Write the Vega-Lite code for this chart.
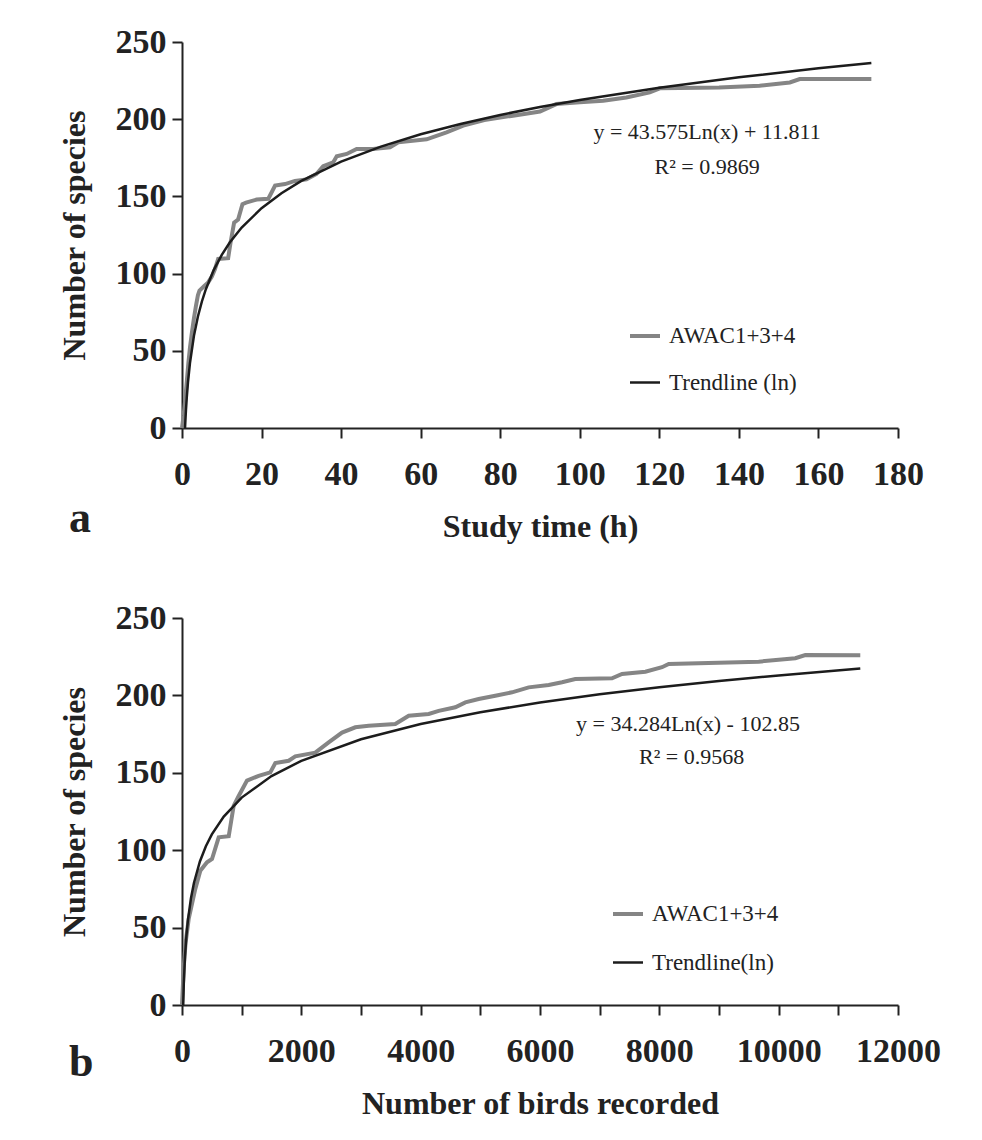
{
  "$schema": "https://vega.github.io/schema/vega-lite/v6.json",
  "background": "white",
  "padding": {"left": 58, "top": 25, "right": 5, "bottom": 5},
  "config": {
    "view": {"stroke": null},
    "font": "Liberation Serif",
    "concat": {"spacing": 59},
    "axis": {
      "domainColor": "#222222", "domainWidth": 2,
      "tickColor": "#222222", "tickWidth": 2, "tickSize": 10,
      "grid": false, "labelFlush": false, "labelOverlap": false,
      "labelFont": "Liberation Serif", "labelFontSize": 34, "labelFontWeight": "bold", "labelColor": "#222222",
      "titleFont": "Liberation Serif", "titleFontSize": 32, "titleFontWeight": "bold", "titleColor": "#222222"
    },
    "axisY": {"labelPadding": 6, "titlePadding": 24},
    "axisX": {"labelPadding": 19, "titlePadding": 20},
    "legend": {
      "orient": "none", "symbolType": "stroke", "symbolSize": 900, "symbolStrokeWidth": 3.5,
      "labelFont": "Liberation Serif", "labelFontSize": 23, "labelColor": "#222222",
      "rowPadding": 18, "labelOffset": 7, "padding": 0, "title": null
    }
  },
  "resolve": {"scale": {"color": "independent", "strokeWidth": "independent", "x": "independent", "y": "independent"}, "legend": {"color": "independent"}},
  "datasets": {
    "a": [
      {"x": 0, "y": 0, "s": "AWAC1+3+4"},
      {"x": 0.4, "y": 8, "s": "AWAC1+3+4"},
      {"x": 0.8, "y": 18, "s": "AWAC1+3+4"},
      {"x": 1.2, "y": 30, "s": "AWAC1+3+4"},
      {"x": 1.6, "y": 42, "s": "AWAC1+3+4"},
      {"x": 2, "y": 52, "s": "AWAC1+3+4"},
      {"x": 2.5, "y": 62, "s": "AWAC1+3+4"},
      {"x": 3, "y": 71, "s": "AWAC1+3+4"},
      {"x": 3.5, "y": 79, "s": "AWAC1+3+4"},
      {"x": 4, "y": 86, "s": "AWAC1+3+4"},
      {"x": 4.4, "y": 89, "s": "AWAC1+3+4"},
      {"x": 5.6, "y": 92, "s": "AWAC1+3+4"},
      {"x": 6.5, "y": 94, "s": "AWAC1+3+4"},
      {"x": 7.5, "y": 98, "s": "AWAC1+3+4"},
      {"x": 8.3, "y": 103, "s": "AWAC1+3+4"},
      {"x": 9.1, "y": 109.5, "s": "AWAC1+3+4"},
      {"x": 11.6, "y": 110, "s": "AWAC1+3+4"},
      {"x": 12.2, "y": 120, "s": "AWAC1+3+4"},
      {"x": 13.1, "y": 133, "s": "AWAC1+3+4"},
      {"x": 14.1, "y": 135, "s": "AWAC1+3+4"},
      {"x": 15.2, "y": 145, "s": "AWAC1+3+4"},
      {"x": 16.1, "y": 146, "s": "AWAC1+3+4"},
      {"x": 18.8, "y": 148, "s": "AWAC1+3+4"},
      {"x": 21.7, "y": 148.5, "s": "AWAC1+3+4"},
      {"x": 23.4, "y": 157, "s": "AWAC1+3+4"},
      {"x": 25.9, "y": 158, "s": "AWAC1+3+4"},
      {"x": 28.4, "y": 160, "s": "AWAC1+3+4"},
      {"x": 31.3, "y": 161, "s": "AWAC1+3+4"},
      {"x": 33.8, "y": 164.5, "s": "AWAC1+3+4"},
      {"x": 35.5, "y": 169.5, "s": "AWAC1+3+4"},
      {"x": 38, "y": 172, "s": "AWAC1+3+4"},
      {"x": 38.9, "y": 176, "s": "AWAC1+3+4"},
      {"x": 41.4, "y": 177.5, "s": "AWAC1+3+4"},
      {"x": 43.9, "y": 180.7, "s": "AWAC1+3+4"},
      {"x": 48, "y": 180.7, "s": "AWAC1+3+4"},
      {"x": 52.3, "y": 181.8, "s": "AWAC1+3+4"},
      {"x": 54.4, "y": 185, "s": "AWAC1+3+4"},
      {"x": 61.5, "y": 187, "s": "AWAC1+3+4"},
      {"x": 66.5, "y": 191.5, "s": "AWAC1+3+4"},
      {"x": 70.7, "y": 195.8, "s": "AWAC1+3+4"},
      {"x": 76, "y": 199.5, "s": "AWAC1+3+4"},
      {"x": 83.2, "y": 202.3, "s": "AWAC1+3+4"},
      {"x": 90, "y": 205, "s": "AWAC1+3+4"},
      {"x": 94.1, "y": 209.8, "s": "AWAC1+3+4"},
      {"x": 100, "y": 211, "s": "AWAC1+3+4"},
      {"x": 105.9, "y": 212, "s": "AWAC1+3+4"},
      {"x": 111.7, "y": 214.1, "s": "AWAC1+3+4"},
      {"x": 117.6, "y": 217.4, "s": "AWAC1+3+4"},
      {"x": 120.1, "y": 220, "s": "AWAC1+3+4"},
      {"x": 135, "y": 220.5, "s": "AWAC1+3+4"},
      {"x": 145.2, "y": 221.7, "s": "AWAC1+3+4"},
      {"x": 152.8, "y": 223.8, "s": "AWAC1+3+4"},
      {"x": 155.3, "y": 226, "s": "AWAC1+3+4"},
      {"x": 173.3, "y": 226, "s": "AWAC1+3+4"},
      {"x": 0.763, "y": 0, "s": "Trendline (ln)"},
      {"x": 0.85, "y": 4.73, "s": "Trendline (ln)"},
      {"x": 1, "y": 11.81, "s": "Trendline (ln)"},
      {"x": 1.2, "y": 19.75, "s": "Trendline (ln)"},
      {"x": 1.5, "y": 29.48, "s": "Trendline (ln)"},
      {"x": 2, "y": 42.01, "s": "Trendline (ln)"},
      {"x": 3, "y": 59.68, "s": "Trendline (ln)"},
      {"x": 4, "y": 72.22, "s": "Trendline (ln)"},
      {"x": 5, "y": 81.94, "s": "Trendline (ln)"},
      {"x": 6, "y": 89.89, "s": "Trendline (ln)"},
      {"x": 8, "y": 102.42, "s": "Trendline (ln)"},
      {"x": 10, "y": 112.14, "s": "Trendline (ln)"},
      {"x": 12, "y": 120.09, "s": "Trendline (ln)"},
      {"x": 15, "y": 129.81, "s": "Trendline (ln)"},
      {"x": 20, "y": 142.35, "s": "Trendline (ln)"},
      {"x": 25, "y": 152.07, "s": "Trendline (ln)"},
      {"x": 30, "y": 160.02, "s": "Trendline (ln)"},
      {"x": 40, "y": 172.55, "s": "Trendline (ln)"},
      {"x": 50, "y": 182.28, "s": "Trendline (ln)"},
      {"x": 60, "y": 190.22, "s": "Trendline (ln)"},
      {"x": 70, "y": 196.94, "s": "Trendline (ln)"},
      {"x": 80, "y": 202.76, "s": "Trendline (ln)"},
      {"x": 90, "y": 207.89, "s": "Trendline (ln)"},
      {"x": 100, "y": 212.48, "s": "Trendline (ln)"},
      {"x": 120, "y": 220.43, "s": "Trendline (ln)"},
      {"x": 140, "y": 227.14, "s": "Trendline (ln)"},
      {"x": 160, "y": 232.96, "s": "Trendline (ln)"},
      {"x": 173.3, "y": 236.44, "s": "Trendline (ln)"}
    ],
    "b": [
      {"x": 0, "y": 0, "s": "AWAC1+3+4"},
      {"x": 30, "y": 25, "s": "AWAC1+3+4"},
      {"x": 60, "y": 40, "s": "AWAC1+3+4"},
      {"x": 112, "y": 55.6, "s": "AWAC1+3+4"},
      {"x": 223, "y": 75, "s": "AWAC1+3+4"},
      {"x": 307, "y": 86.8, "s": "AWAC1+3+4"},
      {"x": 419, "y": 92.2, "s": "AWAC1+3+4"},
      {"x": 503, "y": 94.3, "s": "AWAC1+3+4"},
      {"x": 615, "y": 108.3, "s": "AWAC1+3+4"},
      {"x": 783, "y": 109, "s": "AWAC1+3+4"},
      {"x": 866, "y": 128.7, "s": "AWAC1+3+4"},
      {"x": 950, "y": 135, "s": "AWAC1+3+4"},
      {"x": 1089, "y": 145, "s": "AWAC1+3+4"},
      {"x": 1285, "y": 148, "s": "AWAC1+3+4"},
      {"x": 1480, "y": 150.3, "s": "AWAC1+3+4"},
      {"x": 1564, "y": 156.3, "s": "AWAC1+3+4"},
      {"x": 1788, "y": 157.8, "s": "AWAC1+3+4"},
      {"x": 1899, "y": 160.6, "s": "AWAC1+3+4"},
      {"x": 2234, "y": 163, "s": "AWAC1+3+4"},
      {"x": 2458, "y": 169.7, "s": "AWAC1+3+4"},
      {"x": 2682, "y": 176, "s": "AWAC1+3+4"},
      {"x": 2905, "y": 179.4, "s": "AWAC1+3+4"},
      {"x": 3129, "y": 180.4, "s": "AWAC1+3+4"},
      {"x": 3575, "y": 181.5, "s": "AWAC1+3+4"},
      {"x": 3800, "y": 186.9, "s": "AWAC1+3+4"},
      {"x": 4135, "y": 188, "s": "AWAC1+3+4"},
      {"x": 4302, "y": 190, "s": "AWAC1+3+4"},
      {"x": 4581, "y": 192.3, "s": "AWAC1+3+4"},
      {"x": 4749, "y": 195.5, "s": "AWAC1+3+4"},
      {"x": 4972, "y": 197.7, "s": "AWAC1+3+4"},
      {"x": 5251, "y": 199.8, "s": "AWAC1+3+4"},
      {"x": 5531, "y": 202, "s": "AWAC1+3+4"},
      {"x": 5810, "y": 205.2, "s": "AWAC1+3+4"},
      {"x": 6146, "y": 206.7, "s": "AWAC1+3+4"},
      {"x": 6369, "y": 208.5, "s": "AWAC1+3+4"},
      {"x": 6592, "y": 210.6, "s": "AWAC1+3+4"},
      {"x": 7207, "y": 211, "s": "AWAC1+3+4"},
      {"x": 7375, "y": 213.8, "s": "AWAC1+3+4"},
      {"x": 7766, "y": 215.3, "s": "AWAC1+3+4"},
      {"x": 8045, "y": 218.2, "s": "AWAC1+3+4"},
      {"x": 8157, "y": 220.3, "s": "AWAC1+3+4"},
      {"x": 9665, "y": 221.8, "s": "AWAC1+3+4"},
      {"x": 10279, "y": 224, "s": "AWAC1+3+4"},
      {"x": 10447, "y": 226.1, "s": "AWAC1+3+4"},
      {"x": 11368, "y": 226, "s": "AWAC1+3+4"},
      {"x": 20.1, "y": 0, "s": "Trendline(ln)"},
      {"x": 30, "y": 13.76, "s": "Trendline(ln)"},
      {"x": 50, "y": 31.27, "s": "Trendline(ln)"},
      {"x": 75, "y": 45.17, "s": "Trendline(ln)"},
      {"x": 100, "y": 55.03, "s": "Trendline(ln)"},
      {"x": 150, "y": 68.93, "s": "Trendline(ln)"},
      {"x": 200, "y": 78.8, "s": "Trendline(ln)"},
      {"x": 300, "y": 92.7, "s": "Trendline(ln)"},
      {"x": 400, "y": 102.56, "s": "Trendline(ln)"},
      {"x": 500, "y": 110.21, "s": "Trendline(ln)"},
      {"x": 700, "y": 121.75, "s": "Trendline(ln)"},
      {"x": 1000, "y": 133.98, "s": "Trendline(ln)"},
      {"x": 1500, "y": 147.88, "s": "Trendline(ln)"},
      {"x": 2000, "y": 157.74, "s": "Trendline(ln)"},
      {"x": 3000, "y": 171.64, "s": "Trendline(ln)"},
      {"x": 4000, "y": 181.5, "s": "Trendline(ln)"},
      {"x": 5000, "y": 189.15, "s": "Trendline(ln)"},
      {"x": 6000, "y": 195.4, "s": "Trendline(ln)"},
      {"x": 7000, "y": 200.69, "s": "Trendline(ln)"},
      {"x": 8000, "y": 205.27, "s": "Trendline(ln)"},
      {"x": 9000, "y": 209.31, "s": "Trendline(ln)"},
      {"x": 10000, "y": 212.92, "s": "Trendline(ln)"},
      {"x": 11368, "y": 217.31, "s": "Trendline(ln)"}
    ]
  },
  "vconcat": [
    {
      "width": 716,
      "height": 386,
      "title": {"text": "a", "orient": "bottom", "anchor": "start", "frame": "group", "font": "Liberation Serif", "fontSize": 44, "fontWeight": "bold", "color": "#222222", "dx": -113, "offset": -45},
      "layer": [
        {
          "data": {"name": "a"},
          "mark": {"type": "line"},
          "encoding": {
            "x": {"field": "x", "type": "quantitative", "scale": {"domain": [0, 180], "nice": false}, "axis": {"values": [0, 20, 40, 60, 80, 100, 120, 140, 160, 180], "title": "Study time (h)"}},
            "y": {"field": "y", "type": "quantitative", "scale": {"domain": [0, 250], "nice": false}, "axis": {"values": [0, 50, 100, 150, 200, 250], "title": "Number of species"}},
            "color": {"field": "s", "type": "nominal", "scale": {"domain": ["AWAC1+3+4", "Trendline (ln)"], "range": ["#858585", "#1c1c1c"]}, "legend": {"legendX": 446, "legendY": 277}},
            "strokeWidth": {"field": "s", "type": "nominal", "scale": {"domain": ["AWAC1+3+4", "Trendline (ln)"], "range": [4, 2.5]}, "legend": null}
          }
        },
        {
          "data": {"values": [{}]},
          "mark": {"type": "text", "font": "Liberation Serif", "fontSize": 22, "color": "#222222", "align": "center", "baseline": "middle"},
          "encoding": {"x": {"datum": 132}, "y": {"datum": 191.7}, "text": {"value": "y = 43.575Ln(x) + 11.811"}}
        },
        {
          "data": {"values": [{}]},
          "mark": {"type": "text", "font": "Liberation Serif", "fontSize": 22, "color": "#222222", "align": "center", "baseline": "middle"},
          "encoding": {"x": {"datum": 132}, "y": {"datum": 169}, "text": {"value": "R² = 0.9869"}}
        }
      ]
    },
    {
      "width": 716,
      "height": 387,
      "title": {"text": "b", "orient": "bottom", "anchor": "start", "frame": "group", "font": "Liberation Serif", "fontSize": 44, "fontWeight": "bold", "color": "#222222", "dx": -113, "offset": -78},
      "layer": [
        {
          "data": {"name": "b"},
          "mark": {"type": "line"},
          "encoding": {
            "x": {"field": "x", "type": "quantitative", "scale": {"domain": [0, 12000], "nice": false}, "axis": {"values": [0, 1000, 2000, 3000, 4000, 5000, 6000, 7000, 8000, 9000, 10000, 11000, 12000], "format": "d", "labelExpr": "datum.value % 2000 === 0 ? datum.label : ''", "title": "Number of birds recorded"}},
            "y": {"field": "y", "type": "quantitative", "scale": {"domain": [0, 250], "nice": false}, "axis": {"values": [0, 50, 100, 150, 200, 250], "title": "Number of species"}},
            "color": {"field": "s", "type": "nominal", "scale": {"domain": ["AWAC1+3+4", "Trendline(ln)"], "range": ["#858585", "#1c1c1c"]}, "legend": {"legendX": 429, "legendY": 279, "rowPadding": 20}},
            "strokeWidth": {"field": "s", "type": "nominal", "scale": {"domain": ["AWAC1+3+4", "Trendline(ln)"], "range": [4, 2.5]}, "legend": null}
          }
        },
        {
          "data": {"values": [{}]},
          "mark": {"type": "text", "font": "Liberation Serif", "fontSize": 22, "color": "#222222", "align": "center", "baseline": "middle"},
          "encoding": {"x": {"datum": 8480}, "y": {"datum": 181.5}, "text": {"value": "y = 34.284Ln(x) - 102.85"}}
        },
        {
          "data": {"values": [{}]},
          "mark": {"type": "text", "font": "Liberation Serif", "fontSize": 22, "color": "#222222", "align": "center", "baseline": "middle"},
          "encoding": {"x": {"datum": 8540}, "y": {"datum": 160}, "text": {"value": "R² = 0.9568"}}
        }
      ]
    }
  ]
}
